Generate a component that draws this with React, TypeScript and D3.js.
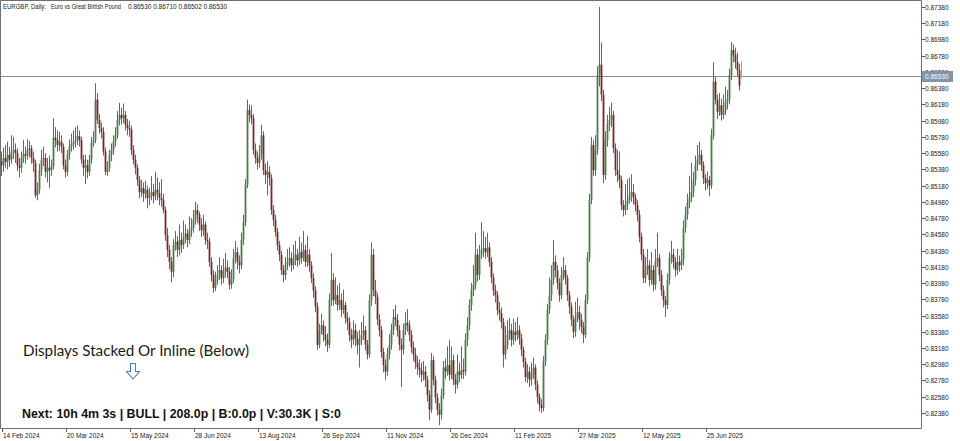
import { useEffect, useRef } from 'react';
import * as d3 from 'd3';

// EURGBP daily bars (oldest first)
const opens = [
  0.8548,
  0.8543,0.8552,0.8547,0.8556,0.8550,0.8560,0.8562,0.8558,0.8543,0.8540,
  0.8552,0.8557,0.8555,0.8562,0.8564,0.8552,0.8546,0.8506,0.8513,0.8537,
  0.8550,0.8552,0.8535,0.8540,0.8537,0.8542,0.8577,0.8574,0.8568,0.8572,
  0.8566,0.8543,0.8535,0.8556,0.8566,0.8569,0.8572,0.8574,0.8579,0.8574,
  0.8550,0.8540,0.8543,0.8535,0.8550,0.8571,0.8574,0.8624,0.8599,0.8589,
  0.8584,0.8560,0.8535,0.8540,0.8556,0.8562,0.8572,0.8580,0.8599,0.8605,
  0.8601,0.8605,0.8593,0.8589,0.8587,0.8562,0.8550,0.8540,0.8525,0.8510,
  0.8515,0.8508,0.8513,0.8503,0.8506,0.8510,0.8505,0.8513,0.8509,0.8503,
  0.8500,0.8488,0.8457,0.8439,0.8424,0.8412,0.8445,0.8449,0.8439,0.8451,
  0.8445,0.8454,0.8459,0.8451,0.8463,0.8466,0.8476,0.8488,0.8482,0.8470,
  0.8463,0.8470,0.8451,0.8449,0.8424,0.8408,0.8392,0.8402,0.8408,0.8414,
  0.8404,0.8412,0.8417,0.8412,0.8396,0.8402,0.8429,0.8436,0.8424,0.8420,
  0.8451,0.8473,0.8519,0.8611,0.8605,0.8601,0.8562,0.8552,0.8546,0.8556,
  0.8580,0.8537,0.8531,0.8535,0.8527,0.8488,0.8476,0.8461,0.8445,0.8433,
  0.8414,0.8408,0.8420,0.8424,0.8429,0.8420,0.8426,0.8433,0.8426,0.8436,
  0.8429,0.8439,0.8424,0.8433,0.8420,0.8404,0.8389,0.8369,0.8322,0.8340,
  0.8346,0.8334,0.8328,0.8322,0.8377,0.8402,0.8377,0.8383,0.8371,0.8377,
  0.8365,0.8371,0.8355,0.8350,0.8334,0.8328,0.8340,0.8330,0.8322,0.8328,
  0.8334,0.8340,0.8322,0.8310,0.8377,0.8433,0.8389,0.8381,0.8353,0.8340,
  0.8313,0.8297,0.8289,0.8310,0.8322,0.8340,0.8356,0.8353,0.8340,0.8322,
  0.8316,0.8340,0.8349,0.8346,0.8334,0.8319,0.8310,0.8300,0.8294,0.8291,
  0.8285,0.8289,0.8279,0.8260,0.8242,0.8303,0.8279,0.8257,0.8242,0.8236,
  0.8260,0.8294,0.8289,0.8297,0.8285,0.8303,0.8279,0.8273,0.8289,0.8285,
  0.8291,0.8289,0.8328,0.8346,0.8371,0.8389,0.8396,0.8433,0.8408,0.8433,
  0.8439,0.8441,0.8436,0.8442,0.8424,0.8405,0.8389,0.8383,0.8365,0.8361,
  0.8350,0.8310,0.8322,0.8334,0.8340,0.8328,0.8338,0.8334,0.8340,0.8330,
  0.8316,0.8301,0.8282,0.8289,0.8279,0.8285,0.8294,0.8273,0.8258,0.8248,
  0.8244,0.8301,0.8328,0.8365,0.8383,0.8402,0.8424,0.8414,0.8398,0.8383,
  0.8408,0.8414,0.8404,0.8383,0.8369,0.8353,0.8338,0.8355,0.8362,0.8353,
  0.8344,0.8334,0.8377,0.8429,0.8500,0.8568,0.8537,0.8562,0.8654,0.8667,
  0.8630,0.8531,0.8574,0.8593,0.8599,0.8605,0.8564,0.8537,0.8531,0.8525,
  0.8494,0.8488,0.8494,0.8500,0.8506,0.8510,0.8503,0.8494,0.8482,0.8455,
  0.8433,0.8404,0.8414,0.8420,0.8402,0.8414,0.8396,0.8424,0.8429,0.8408,
  0.8389,0.8377,0.8371,0.8402,0.8429,0.8433,0.8424,0.8414,0.8424,0.8420,
  0.8426,0.8466,0.8482,0.8497,0.8503,0.8510,0.8525,0.8543,0.8550,0.8556,
  0.8543,0.8527,0.8521,0.8525,0.8518,0.8580,0.8646,0.8624,0.8609,0.8617,
  0.8605,0.8610,0.8621,0.8624,0.8654,0.8685,0.8679,0.8670,0.8660,
  0.8653,
];

const highs = [
  0.8560,0.8565,0.8568,0.8572,0.8566,0.8580,0.8578,0.8570,0.8564,0.8552,
  0.8560,0.8574,0.8566,0.8575,0.8573,0.8568,0.8560,0.8550,0.8522,0.8545,
  0.8562,0.8566,0.8558,0.8552,0.8555,0.8550,0.8601,0.8590,0.8586,0.8584,
  0.8580,0.8570,0.8550,0.8562,0.8575,0.8582,0.8586,0.8590,0.8592,0.8586,
  0.8578,0.8556,0.8556,0.8550,0.8556,0.8578,0.8585,0.8644,0.8632,0.8606,
  0.8596,0.8590,0.8565,0.8548,0.8562,0.8570,0.8580,0.8590,0.8610,0.8620,
  0.8614,0.8619,0.8610,0.8600,0.8598,0.8592,0.8568,0.8556,0.8544,0.8530,
  0.8525,0.8522,0.8524,0.8518,0.8515,0.8530,0.8520,0.8535,0.8528,0.8522,
  0.8526,0.8508,0.8492,0.8466,0.8445,0.8430,0.8452,0.8462,0.8456,0.8470,
  0.8460,0.8475,0.8470,0.8465,0.8480,0.8478,0.8488,0.8498,0.8495,0.8486,
  0.8478,0.8482,0.8474,0.8460,0.8454,0.8430,0.8414,0.8412,0.8420,0.8430,
  0.8420,0.8428,0.8435,0.8426,0.8418,0.8415,0.8440,0.8450,0.8442,0.8432,
  0.8460,0.8482,0.8526,0.8624,0.8618,0.8617,0.8606,0.8570,0.8560,0.8568,
  0.8593,0.8585,0.8545,0.8548,0.8542,0.8532,0.8494,0.8482,0.8466,0.8450,
  0.8438,0.8420,0.8430,0.8440,0.8442,0.8436,0.8445,0.8450,0.8440,0.8455,
  0.8448,0.8462,0.8445,0.8456,0.8440,0.8425,0.8410,0.8394,0.8374,0.8348,
  0.8360,0.8352,0.8345,0.8336,0.8385,0.8435,0.8410,0.8405,0.8395,0.8398,
  0.8385,0.8390,0.8375,0.8362,0.8356,0.8342,0.8352,0.8348,0.8338,0.8340,
  0.8350,0.8358,0.8345,0.8328,0.8384,0.8448,0.8440,0.8402,0.8386,0.8360,
  0.8345,0.8318,0.8304,0.8318,0.8335,0.8348,0.8366,0.8371,0.8360,0.8346,
  0.8330,0.8348,0.8362,0.8366,0.8352,0.8340,0.8326,0.8318,0.8308,0.8304,
  0.8300,0.8302,0.8296,0.8284,0.8266,0.8312,0.8308,0.8284,0.8262,0.8250,
  0.8268,0.8302,0.8305,0.8320,0.8328,0.8320,0.8310,0.8286,0.8310,0.8300,
  0.8320,0.8305,0.8336,0.8356,0.8378,0.8398,0.8420,0.8460,0.8440,0.8445,
  0.8473,0.8462,0.8455,0.8460,0.8448,0.8430,0.8410,0.8396,0.8388,0.8375,
  0.8368,0.8355,0.8345,0.8352,0.8355,0.8348,0.8354,0.8350,0.8356,0.8346,
  0.8336,0.8320,0.8306,0.8298,0.8295,0.8300,0.8306,0.8298,0.8278,0.8262,
  0.8255,0.8308,0.8335,0.8372,0.8405,0.8420,0.8451,0.8432,0.8420,0.8404,
  0.8418,0.8430,0.8420,0.8408,0.8388,0.8374,0.8358,0.8375,0.8380,0.8370,
  0.8360,0.8350,0.8384,0.8436,0.8508,0.8578,0.8574,0.8580,0.8665,0.8738,
  0.8694,0.8636,0.8585,0.8605,0.8615,0.8620,0.8610,0.8570,0.8562,0.8560,
  0.8530,0.8500,0.8520,0.8526,0.8528,0.8532,0.8520,0.8508,0.8500,0.8488,
  0.8460,0.8440,0.8430,0.8440,0.8426,0.8436,0.8420,0.8440,0.8460,0.8434,
  0.8414,0.8395,0.8382,0.8410,0.8436,0.8450,0.8440,0.8430,0.8440,0.8432,
  0.8440,0.8475,0.8492,0.8508,0.8530,0.8546,0.8535,0.8555,0.8568,0.8572,
  0.8562,0.8548,0.8532,0.8535,0.8530,0.8588,0.8670,0.8652,0.8630,0.8632,
  0.8625,0.8630,0.8640,0.8636,0.8662,0.8695,0.8692,0.8688,0.8682,0.8668,
  0.8671,
];

const lows = [
  0.8530,0.8535,0.8540,0.8538,0.8541,0.8545,0.8551,0.8546,0.8536,0.8528,
  0.8534,0.8546,0.8545,0.8550,0.8553,0.8545,0.8535,0.8503,0.8500,0.8508,
  0.8530,0.8542,0.8528,0.8522,0.8515,0.8530,0.8538,0.8565,0.8560,0.8561,
  0.8558,0.8538,0.8528,0.8530,0.8550,0.8560,0.8562,0.8565,0.8568,0.8566,
  0.8545,0.8530,0.8520,0.8527,0.8530,0.8545,0.8566,0.8570,0.8594,0.8582,
  0.8576,0.8555,0.8531,0.8530,0.8535,0.8548,0.8556,0.8566,0.8576,0.8592,
  0.8593,0.8595,0.8586,0.8580,0.8578,0.8556,0.8544,0.8532,0.8518,0.8502,
  0.8504,0.8498,0.8502,0.8490,0.8494,0.8500,0.8496,0.8500,0.8500,0.8494,
  0.8492,0.8484,0.8450,0.8430,0.8415,0.8399,0.8405,0.8438,0.8430,0.8432,
  0.8435,0.8440,0.8447,0.8442,0.8446,0.8455,0.8460,0.8470,0.8472,0.8462,
  0.8455,0.8456,0.8445,0.8440,0.8418,0.8400,0.8386,0.8388,0.8396,0.8402,
  0.8396,0.8398,0.8405,0.8404,0.8390,0.8391,0.8398,0.8422,0.8415,0.8410,
  0.8415,0.8445,0.8468,0.8515,0.8596,0.8594,0.8556,0.8545,0.8538,0.8540,
  0.8550,0.8531,0.8520,0.8506,0.8518,0.8482,0.8468,0.8455,0.8438,0.8425,
  0.8408,0.8399,0.8402,0.8414,0.8418,0.8412,0.8415,0.8420,0.8418,0.8420,
  0.8422,0.8425,0.8418,0.8418,0.8412,0.8398,0.8380,0.8362,0.8316,0.8318,
  0.8335,0.8326,0.8320,0.8313,0.8318,0.8370,0.8370,0.8372,0.8364,0.8365,
  0.8356,0.8360,0.8348,0.8340,0.8326,0.8318,0.8322,0.8320,0.8310,0.8294,
  0.8322,0.8328,0.8315,0.8304,0.8306,0.8370,0.8382,0.8372,0.8346,0.8332,
  0.8306,0.8288,0.8279,0.8284,0.8304,0.8316,0.8334,0.8345,0.8332,0.8315,
  0.8270,0.8310,0.8334,0.8338,0.8326,0.8312,0.8302,0.8292,0.8285,0.8282,
  0.8276,0.8278,0.8270,0.8252,0.8229,0.8238,0.8272,0.8250,0.8235,0.8223,
  0.8230,0.8255,0.8280,0.8284,0.8278,0.8280,0.8272,0.8262,0.8268,0.8276,
  0.8280,0.8280,0.8284,0.8320,0.8340,0.8364,0.8382,0.8390,0.8400,0.8402,
  0.8428,0.8430,0.8428,0.8430,0.8418,0.8398,0.8382,0.8374,0.8358,0.8352,
  0.8342,0.8294,0.8304,0.8316,0.8328,0.8320,0.8322,0.8326,0.8328,0.8322,
  0.8308,0.8294,0.8276,0.8275,0.8270,0.8272,0.8280,0.8266,0.8250,0.8240,
  0.8238,0.8240,0.8296,0.8322,0.8360,0.8376,0.8396,0.8405,0.8390,0.8375,
  0.8378,0.8402,0.8396,0.8376,0.8360,0.8345,0.8330,0.8332,0.8350,0.8340,
  0.8336,0.8324,0.8330,0.8372,0.8424,0.8495,0.8530,0.8530,0.8556,0.8640,
  0.8622,0.8521,0.8525,0.8566,0.8585,0.8590,0.8558,0.8530,0.8522,0.8515,
  0.8488,0.8480,0.8482,0.8488,0.8496,0.8498,0.8495,0.8486,0.8474,0.8448,
  0.8426,0.8398,0.8398,0.8408,0.8394,0.8396,0.8388,0.8390,0.8418,0.8400,
  0.8382,0.8368,0.8356,0.8366,0.8396,0.8422,0.8416,0.8406,0.8408,0.8412,
  0.8414,0.8420,0.8460,0.8476,0.8490,0.8498,0.8504,0.8518,0.8536,0.8544,
  0.8536,0.8520,0.8512,0.8514,0.8505,0.8514,0.8575,0.8618,0.8600,0.8604,
  0.8598,0.8600,0.8605,0.8612,0.8618,0.8648,0.8670,0.8662,0.8652,0.8635,
  0.86502,
];

const closes = [
  0.8543,0.8552,0.8547,0.8556,0.8550,0.8560,0.8562,0.8558,0.8543,0.8540,
  0.8552,0.8557,0.8555,0.8562,0.8564,0.8552,0.8546,0.8506,0.8513,0.8537,
  0.8550,0.8552,0.8535,0.8540,0.8537,0.8542,0.8577,0.8574,0.8568,0.8572,
  0.8566,0.8543,0.8535,0.8556,0.8566,0.8569,0.8572,0.8574,0.8579,0.8574,
  0.8550,0.8540,0.8543,0.8535,0.8550,0.8571,0.8574,0.8624,0.8599,0.8589,
  0.8584,0.8560,0.8535,0.8540,0.8556,0.8562,0.8572,0.8580,0.8599,0.8605,
  0.8601,0.8605,0.8593,0.8589,0.8587,0.8562,0.8550,0.8540,0.8525,0.8510,
  0.8515,0.8508,0.8513,0.8503,0.8506,0.8510,0.8505,0.8513,0.8509,0.8503,
  0.8500,0.8488,0.8457,0.8439,0.8424,0.8412,0.8445,0.8449,0.8439,0.8451,
  0.8445,0.8454,0.8459,0.8451,0.8463,0.8466,0.8476,0.8488,0.8482,0.8470,
  0.8463,0.8470,0.8451,0.8449,0.8424,0.8408,0.8392,0.8402,0.8408,0.8414,
  0.8404,0.8412,0.8417,0.8412,0.8396,0.8402,0.8429,0.8436,0.8424,0.8420,
  0.8451,0.8473,0.8519,0.8611,0.8605,0.8601,0.8562,0.8552,0.8546,0.8556,
  0.8580,0.8537,0.8531,0.8535,0.8527,0.8488,0.8476,0.8461,0.8445,0.8433,
  0.8414,0.8408,0.8420,0.8424,0.8429,0.8420,0.8426,0.8433,0.8426,0.8436,
  0.8429,0.8439,0.8424,0.8433,0.8420,0.8404,0.8389,0.8369,0.8322,0.8340,
  0.8346,0.8334,0.8328,0.8322,0.8377,0.8402,0.8377,0.8383,0.8371,0.8377,
  0.8365,0.8371,0.8355,0.8350,0.8334,0.8328,0.8340,0.8330,0.8322,0.8328,
  0.8334,0.8340,0.8322,0.8310,0.8377,0.8433,0.8389,0.8381,0.8353,0.8340,
  0.8313,0.8297,0.8289,0.8310,0.8322,0.8340,0.8356,0.8353,0.8340,0.8322,
  0.8316,0.8340,0.8349,0.8346,0.8334,0.8319,0.8310,0.8300,0.8294,0.8291,
  0.8285,0.8289,0.8279,0.8260,0.8242,0.8303,0.8279,0.8257,0.8242,0.8236,
  0.8260,0.8294,0.8289,0.8297,0.8285,0.8303,0.8279,0.8273,0.8289,0.8285,
  0.8291,0.8289,0.8328,0.8346,0.8371,0.8389,0.8396,0.8433,0.8408,0.8433,
  0.8439,0.8441,0.8436,0.8442,0.8424,0.8405,0.8389,0.8383,0.8365,0.8361,
  0.8350,0.8310,0.8322,0.8334,0.8340,0.8328,0.8338,0.8334,0.8340,0.8330,
  0.8316,0.8301,0.8282,0.8289,0.8279,0.8285,0.8294,0.8273,0.8258,0.8248,
  0.8244,0.8301,0.8328,0.8365,0.8383,0.8402,0.8424,0.8414,0.8398,0.8383,
  0.8408,0.8414,0.8404,0.8383,0.8369,0.8353,0.8338,0.8355,0.8362,0.8353,
  0.8344,0.8334,0.8377,0.8429,0.8500,0.8568,0.8537,0.8562,0.8654,0.8667,
  0.8630,0.8531,0.8574,0.8593,0.8599,0.8605,0.8564,0.8537,0.8531,0.8525,
  0.8494,0.8488,0.8494,0.8500,0.8506,0.8510,0.8503,0.8494,0.8482,0.8455,
  0.8433,0.8404,0.8414,0.8420,0.8402,0.8414,0.8396,0.8424,0.8429,0.8408,
  0.8389,0.8377,0.8371,0.8402,0.8429,0.8433,0.8424,0.8414,0.8424,0.8420,
  0.8426,0.8466,0.8482,0.8497,0.8503,0.8510,0.8525,0.8543,0.8550,0.8556,
  0.8543,0.8527,0.8521,0.8525,0.8518,0.8580,0.8646,0.8624,0.8609,0.8617,
  0.8605,0.8610,0.8621,0.8624,0.8654,0.8685,0.8679,0.8670,0.8660,0.8641,
  0.8653,
];

// bottom axis labels, one every 32 bars
const dateLabels = [
  '14 Feb 2024', '20 Mar 2024', '15 May 2024', '28 Jun 2024', '13 Aug 2024', '26 Sep 2024',
  '11 Nov 2024', '26 Dec 2024', '11 Feb 2025', '27 Mar 2025', '12 May 2025', '25 Jun 2025',
];
const dateLabelBars = [0, 32, 64, 96, 128, 160, 192, 224, 256, 288, 320, 352];

const priceTicks = [
  0.8738, 0.8718, 0.8698, 0.8678, 0.8658, 0.8638, 0.8618, 0.8598, 0.8578, 0.8558,
  0.8538, 0.8518, 0.8498, 0.8478, 0.8458, 0.8438, 0.8418, 0.8398, 0.8378, 0.8358,
  0.8338, 0.8318, 0.8298, 0.8278, 0.8258, 0.8238,
];

const symbolTitle = 'EURGBP, Daily:';
const symbolName = 'Euro vs Great British Pound';
const lastBar = '0.86530 0.86710 0.86502 0.86530';
const bidPrice = 0.8653;
const noteText = 'Displays Stacked Or Inline (Below)';
const statusText = 'Next: 10h 4m 3s | BULL | 208.0p | B:0.0p | V:30.3K | S:0';

const AXIS_FONT = '"Liberation Sans", Arial, sans-serif';

const App = () => {
    const svgRef = useRef<SVGSVGElement>(null);

    useEffect(() => {
        if (!svgRef.current) return;
        const svg = d3.select(svgRef.current);
        svg.selectAll('*').remove();

        const plotRight = 921;
        const plotBottom = 428;

        const x = d3.scaleLinear().domain([0, closes.length - 1]).range([1.5, 741.5]);
        const y = d3.scaleLinear().domain([0.82195, 0.87466]).range([plotBottom, 0]);

        svg.append('rect').attr('width', 960).attr('height', 441).attr('fill', '#fff');

        // price axis ticks + labels
        const yAxis = svg.append('g');
        priceTicks.forEach(p => {
            const py = Math.round(y(p)) + 0.5;
            yAxis.append('line')
                .attr('x1', plotRight).attr('x2', plotRight + 4)
                .attr('y1', py).attr('y2', py)
                .attr('stroke', '#555');
            yAxis.append('text')
                .attr('x', plotRight + 4).attr('y', py + 2.3)
                .attr('font-family', AXIS_FONT).attr('font-size', 6.5)
                .attr('fill', '#222')
                .text(p.toFixed(5));
        });

        // date axis
        const xAxis = svg.append('g');
        dateLabelBars.forEach((b, i) => {
            const px = Math.round(x(b)) + 0.5;
            xAxis.append('line')
                .attr('x1', px).attr('x2', px)
                .attr('y1', plotBottom).attr('y2', plotBottom + 4)
                .attr('stroke', '#555');
            xAxis.append('text')
                .attr('x', px + 0.5).attr('y', plotBottom + 10)
                .attr('font-family', AXIS_FONT).attr('font-size', 6.5)
                .attr('fill', '#222')
                .text(dateLabels[i]);
        });

        // bid line
        const bidY = Math.round(y(bidPrice)) + 0.5;
        svg.append('line')
            .attr('x1', 0).attr('x2', plotRight)
            .attr('y1', bidY).attr('y2', bidY)
            .attr('stroke', '#8c8c8c').attr('stroke-width', 1);

        // candles
        const candles = svg.append('g');
        const last = closes.length - 1;
        closes.forEach((c, i) => {
            const o = opens[i];
            const cx = x(i);
            const bull = c >= o;
            candles.append('line')
                .attr('x1', cx).attr('x2', cx)
                .attr('y1', y(highs[i])).attr('y2', y(lows[i]))
                .attr('stroke', i === last ? '#5fd35f' : '#666')
                .attr('stroke-width', 1);
            const top = y(Math.max(o, c));
            const h = Math.max(1, y(Math.min(o, c)) - top);
            candles.append('rect')
                .attr('x', cx - 0.9).attr('width', 1.8)
                .attr('y', top).attr('height', h)
                .attr('fill', i === last ? '#66e066' : bull ? '#477d47' : '#7a2626');
        });

        // frame
        svg.append('path')
            .attr('d', `M0.5,0.5H${plotRight + 0.5}V${plotBottom + 0.5}H0.5Z`)
            .attr('fill', 'none').attr('stroke', '#6e6e6e');

        // bid label (sits over the 0.86580 tick label, as on the terminal)
        svg.append('rect')
            .attr('x', plotRight + 1).attr('y', bidY - 5.5)
            .attr('width', 31).attr('height', 11)
            .attr('fill', '#8095aa');
        svg.append('text')
            .attr('x', plotRight + 4).attr('y', bidY + 2.3)
            .attr('font-family', AXIS_FONT).attr('font-size', 6.5)
            .attr('fill', '#fff')
            .text(bidPrice.toFixed(5));

        // header
        const head = svg.append('g')
            .attr('font-family', AXIS_FONT).attr('font-size', 6.5)
            .attr('fill', '#222');
        head.append('text').attr('x', 3).attr('y', 8.5)
            .attr('textLength', 43).attr('lengthAdjust', 'spacingAndGlyphs')
            .text(symbolTitle);
        head.append('text').attr('x', 51).attr('y', 8.5)
            .attr('textLength', 70).attr('lengthAdjust', 'spacingAndGlyphs')
            .text(symbolName);
        head.append('text').attr('x', 128).attr('y', 8.5)
            .attr('textLength', 99).attr('lengthAdjust', 'spacingAndGlyphs')
            .text(lastBar);

        // annotation
        svg.append('text')
            .attr('x', 23).attr('y', 356)
            .attr('font-family', 'Lato, "Open Sans", sans-serif')
            .attr('font-size', 15.5)
            .attr('fill', '#1a1a1a')
            .attr('textLength', 226).attr('lengthAdjust', 'spacingAndGlyphs')
            .text(noteText);

        svg.append('path')
            .attr('d', 'M130.5,363.5H135.5V371.5H139.5L133,379L126.5,371.5H130.5Z')
            .attr('fill', '#fff').attr('stroke', '#4a7ebb').attr('stroke-width', 1.1);

        svg.append('text')
            .attr('x', 22).attr('y', 418)
            .attr('font-family', AXIS_FONT)
            .attr('font-size', 13).attr('font-weight', 'bold')
            .attr('fill', '#111')
            .attr('textLength', 319).attr('lengthAdjust', 'spacingAndGlyphs')
            .text(statusText);
    }, []);

    return (
        <svg ref={svgRef} width={960} height={441}
            style={{ position: 'absolute', left: 0, top: 0, display: 'block' }} />
    );
};

export default App;
